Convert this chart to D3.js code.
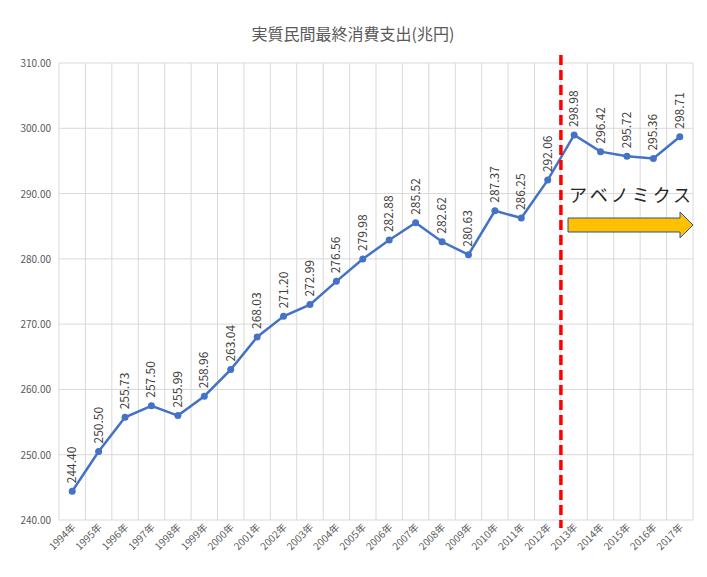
<!DOCTYPE html>
<html><head><meta charset="utf-8">
<script src="https://cdn.jsdelivr.net/npm/d3@7"></script>
<style>
body{margin:0;background:#fff;font-family:"Noto Sans CJK JP","Liberation Sans",sans-serif;}
</style></head><body>
<script>
var years = ["1994年","1995年","1996年","1997年","1998年","1999年","2000年","2001年","2002年","2003年","2004年","2005年","2006年","2007年","2008年","2009年","2010年","2011年","2012年","2013年","2014年","2015年","2016年","2017年"];
var values = [244.40,250.50,255.73,257.50,255.99,258.96,263.04,268.03,271.20,272.99,276.56,279.98,282.88,285.52,282.62,280.63,287.37,286.25,292.06,298.98,296.42,295.72,295.36,298.71];
var yTicks = [240,250,260,270,280,290,300,310];

(function () {
var width = 707, height = 577;
var plotLeft = 59, plotRight = 693, plotTop = 63, plotBottom = 520;

var svg = d3.select("body").append("svg").attr("width", width).attr("height", height);

var x = d3.scaleBand().domain(years).range([plotLeft, plotRight]);
var y = d3.scaleLinear().domain([240, 310]).range([plotBottom, plotTop]);

//title
svg.append("text").attr("x", 353).attr("y", 40).attr("text-anchor", "middle")
    .attr("font-size", 16).attr("fill", "#595959").text("実質民間最終消費支出(兆円)");

//grid
svg.selectAll(".hg").data(yTicks).enter().append("line")
    .attr("x1", plotLeft).attr("x2", plotRight)
    .attr("y1", function (d) { return y(d); }).attr("y2", function (d) { return y(d); })
    .attr("stroke", "#d9d9d9");
svg.selectAll(".vg").data(years.concat(["end"])).enter().append("line")
    .attr("x1", function (d, i) { return plotLeft + i * x.bandwidth(); })
    .attr("x2", function (d, i) { return plotLeft + i * x.bandwidth(); })
    .attr("y1", plotTop).attr("y2", plotBottom)
    .attr("stroke", "#d9d9d9");

//y labels
svg.selectAll(".yl").data(yTicks).enter().append("text")
    .attr("x", plotLeft - 8).attr("y", function (d) { return y(d) + 4; })
    .attr("text-anchor", "end").attr("font-size", 10).attr("fill", "#595959")
    .text(function (d) { return d.toFixed(2); });

//x labels
svg.selectAll(".xl").data(years).enter().append("text")
    .attr("transform", function (d) {
        return "translate(" + (x(d) + x.bandwidth() / 2 + 4) + "," + (plotBottom + 8) + ") rotate(-45)";
    })
    .attr("text-anchor", "end").attr("font-size", 10).attr("fill", "#595959")
    .text(function (d) { return d; });

var cx = function (d, i) { return x(years[i]) + x.bandwidth() / 2; };

//line
var line = d3.line().x(function (d, i) { return cx(d, i); }).y(function (d) { return y(d); });
svg.append("path").datum(values).attr("d", line)
    .attr("fill", "none").attr("stroke", "#4472c4").attr("stroke-width", 2.5);
svg.selectAll(".pt").data(values).enter().append("circle")
    .attr("cx", cx).attr("cy", function (d) { return y(d); }).attr("r", 3.5).attr("fill", "#4472c4");

//data labels
svg.selectAll(".dl").data(values).enter().append("text")
    .attr("transform", function (d, i) {
        return "translate(" + (cx(d, i) + 4) + "," + (y(d) - 8) + ") rotate(-90)";
    })
    .attr("font-size", 12).attr("fill", "#404040")
    .text(function (d) { return d.toFixed(2); });

//red dashed divider between 2012 and 2013
var divX = x("2013年");
svg.append("line").attr("x1", divX).attr("x2", divX).attr("y1", 55).attr("y2", 528)
    .attr("stroke", "#ff0000").attr("stroke-width", 3.5).attr("stroke-dasharray", "10,5");

//annotation
svg.append("text").attr("x", 569).attr("y", 202).attr("font-size", 18).attr("fill", "#262626")
    .attr("letter-spacing", 3).text("アベノミクス");
var ax0 = 568, ax1 = 693, ay = 225;
svg.append("path")
    .attr("d", "M" + ax0 + "," + (ay - 7) + "L" + (ax1 - 13) + "," + (ay - 7) + "L" + (ax1 - 13) + "," + (ay - 13) +
        "L" + ax1 + "," + ay + "L" + (ax1 - 13) + "," + (ay + 13) + "L" + (ax1 - 13) + "," + (ay + 7) +
        "L" + ax0 + "," + (ay + 7) + "Z")
    .attr("fill", "#ffc000").attr("stroke", "#2f528f").attr("stroke-width", 1);
})();
</script>
</body></html>
